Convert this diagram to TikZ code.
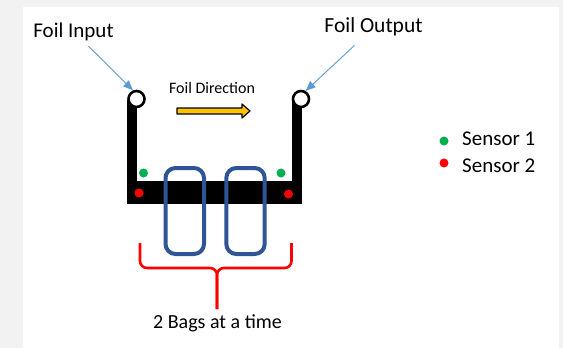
\documentclass[tikz,border=0pt]{standalone}
\usepackage{fontspec}
\setmainfont{Carlito}
\usetikzlibrary{arrows.meta}
\definecolor{panelgray}{RGB}{242,242,242}
\definecolor{linkblue}{RGB}{91,155,213}
\definecolor{bagblue}{RGB}{47,85,151}
\definecolor{sensgreen}{RGB}{0,176,80}
\definecolor{sensred}{RGB}{255,0,0}
\definecolor{dirorange}{RGB}{255,192,0}

\begin{document}
\begin{tikzpicture}[x=1pt,y=-1pt,line join=round,
  lbl/.style={font=\fontsize{21}{25}\selectfont,inner sep=1pt},
  roller/.style={circle,draw=black,line width=2.6pt,fill=white,minimum size=16pt,inner sep=0pt},
  pointer/.style={-{Triangle[length=10pt,width=8pt]},linkblue,line width=0.9pt},
  bag/.style={draw=bagblue,line width=4pt,rounded corners=10pt},
  sensordot/.style={circle,fill=#1,minimum size=9pt,inner sep=0pt},
  brace/.style={sensred,line width=2.6pt,rounded corners=7pt}]
  % page and white panel
  \fill[panelgray] (0,0) rectangle (563,348);
  \fill[white] (23,7) rectangle (559,348);
  \useasboundingbox (0,0) rectangle (563,348);
  % the U shaped frame
  \fill (127,100) rectangle (136.5,204);
  \fill (292,100) rectangle (301.5,204);
  \fill (127,181) rectangle (301.5,204);
  \node[roller] (rollin) at (136.5,99) {};
  \node[roller] (rollout) at (301,99) {};
  % sensors on the frame
  \foreach \n/\x/\y/\c in {gin/143.5/173/sensgreen,gout/281/173/sensgreen,rin/139/193/sensred,rout/288.5/194/sensred}{
    \node[sensordot=\c] (\n) at (\x,\y) {};
  }
  % two bags
  \draw[bag] (165.5,168) rectangle (204,254);
  \draw[bag] (226.3,168) rectangle (264.7,254);
  % labels and pointers
  \node[lbl] (lblin) at (73.5,32) {Foil Input};
  \node[lbl,font=\fontsize{21.5}{25}\selectfont] (lblout) at (373.5,27) {Foil Output};
  \draw[pointer] ([xshift=15pt,yshift=-4pt]lblin.south) -- (rollin.112);
  \draw[pointer] ([xshift=-19pt,yshift=-8pt]lblout.south) -- (rollout.60);
  \node[font=\fontsize{16}{19}\selectfont,inner sep=1pt] (dir) at (212,88) {Foil Direction};
  \filldraw[fill=dirorange,draw=black,line width=1.2pt] (177,108) -- (242,108) -- (242,104) -- (250,111) -- (242,118) -- (242,114) -- (177,114) -- cycle;
  % legend
  \node[sensordot=sensgreen] (keyg) at (444,141) {};
  \node[sensordot=sensred] (keyr) at (444,163) {};
  \node[lbl,anchor=west] (keyone) at (461,139) {Sensor 1};
  \node[lbl,anchor=west] (keytwo) at (461,166) {Sensor 2};
  % brace under the bags
  \node[lbl,font=\fontsize{20}{24}\selectfont] (bags) at (217.5,323) {2 Bags at a time};
  \draw[brace] (140,243) -- (140,268) -- (217,268) -- ([xshift=-0.5pt,yshift=4pt]bags.north);
  \draw[brace] (291.5,243) -- (291.5,268) -- (217,268) -- ([xshift=-0.5pt,yshift=4pt]bags.north);
\end{tikzpicture}
\end{document}
